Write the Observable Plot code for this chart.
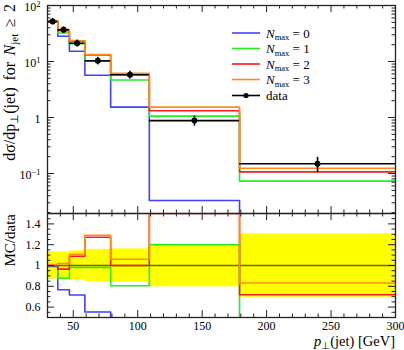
<!DOCTYPE html>
<html><head><meta charset="utf-8">
<script src="https://cdn.jsdelivr.net/npm/d3@7"></script>
<script src="https://cdn.jsdelivr.net/npm/@observablehq/plot@0.6"></script>
<style>
body{margin:0;background:#fff;}
#wrap{position:relative;width:404px;height:350px;font-family:"Liberation Serif",serif;}
#wrap svg{position:absolute;left:0;overflow:visible;}
</style></head><body><div id="wrap"></div>
<script>
// ---- data ----
const binEdges = [30, 38, 47, 59, 79, 109, 179, 300];
const dataValues = [52, 36.8, 21.2, 10.3, 5.8, 0.88, 0.149];
const dataRelErr = [0.13, 0.13, 0.14, 0.155, 0.16, 0.205, 0.305];
const nmax0 = [51.5, 28.2, 15.2, 5.69, 1.53, 0.033, 0.005];
const nmax1 = [52, 32.3, 20.8, 10.1, 4.67, 1.056, 0.073];
const nmax2 = [52, 35.5, 23.1, 13.1, 5.8, 1.32, 0.107];
const nmax3 = [52.5, 37.5, 23.5, 13.3, 6.15, 1.53, 0.124];
const seriesLabels = ["0", "1", "2", "3"];
const seriesColors = ["#4040ff", "#22ee22", "#ff1a1a", "#ff8c1a"];
const xTickValues = [50, 100, 150, 200, 250, 300];
const xTickLabels = ["50", "100", "150", "200", "250", "300"];
const yMainTickValues = [0.1, 1, 10, 100];
const yMainTickLabels = ["10^−1", "1", "10^1", "10^2"];
const yRatioTickValues = [0.6, 0.8, 1, 1.2, 1.4];
const yRatioTickLabels = ["0.6", "0.8", "1", "1.2", "1.4"];

const series = [nmax0, nmax1, nmax2, nmax3];
const W = 404, ML = 47, MR = 9;
const xDomain = [30, 300];
const FONT = "Liberation Serif";

const bins = dataValues.map((v, i) => ({
  lo: binEdges[i], hi: binEdges[i + 1], mid: (binEdges[i] + binEdges[i + 1]) / 2,
  v, elo: v * (1 - dataRelErr[i]), ehi: v * (1 + dataRelErr[i]),
  rlo: 1 - dataRelErr[i], rhi: 1 + dataRelErr[i]
}));
function steps(vals) {
  return binEdges.map((e, i) => ({x: e, y: vals[Math.min(i, vals.length - 1)]}));
}

const xMinor = d3.range(30, 301, 10).filter(d => d % 50 !== 0);
function frameTicks(fh, fw, xMaj, xMin, yMaj, yMin) {
  const c = "#222";
  const m = [];
  const LM = 7, Lm = 3.5;
  m.push(Plot.tickX(xMaj, {x: d => d, insetTop: fh - LM, stroke: c}));
  m.push(Plot.tickX(xMaj, {x: d => d, insetBottom: fh - LM, stroke: c}));
  m.push(Plot.tickX(xMin, {x: d => d, insetTop: fh - Lm, stroke: c}));
  m.push(Plot.tickX(xMin, {x: d => d, insetBottom: fh - Lm, stroke: c}));
  m.push(Plot.tickY(yMaj, {y: d => d, insetRight: fw - LM, stroke: c}));
  m.push(Plot.tickY(yMaj, {y: d => d, insetLeft: fw - LM, stroke: c}));
  m.push(Plot.tickY(yMin, {y: d => d, insetRight: fw - Lm, stroke: c}));
  m.push(Plot.tickY(yMin, {y: d => d, insetLeft: fw - Lm, stroke: c}));
  return m;
}

const wrap = document.getElementById("wrap");

// ---- main panel ----
const topH = 213, topMT = 5;
const fhTop = topH - topMT, fw = W - ML - MR;
const yMainMinor = [];
[-2, -1, 0, 1].forEach(k => { for (let j = 2; j <= 9; j++) { const v = j * Math.pow(10, k); if (v > 0.0193 && v < 100) yMainMinor.push(v); } });
const mainLabelMap = new Map(yMainTickValues.map((d, i) => [d, yMainTickLabels[i]]));

const mainPlot = Plot.plot({
  width: W, height: topH, marginLeft: ML, marginRight: MR, marginTop: topMT, marginBottom: 0,
  style: {fontFamily: FONT, fontSize: "12px", background: "transparent", overflow: "visible"},
  x: {domain: xDomain, axis: null},
  y: {type: "log", domain: [0.0193, 100], label: null},
  marks: [
    ...series.map((s, i) => Plot.line(steps(s), {x: "x", y: "y", curve: "step-after", stroke: seriesColors[i], strokeWidth: 1.6, clip: true})),
    Plot.ruleY(bins, {y: "v", x1: "lo", x2: "hi", stroke: "black", strokeWidth: 1.6}),
    Plot.ruleX(bins, {x: "mid", y1: "elo", y2: "ehi", stroke: "black", strokeWidth: 1.6}),
    Plot.dot(bins, {x: "mid", y: "v", r: 3, fill: "black"}),
    ...frameTicks(fhTop, fw, xTickValues, xMinor, yMainTickValues, yMainMinor),
    Plot.axisY(yMainTickValues, {tickSize: 0, tickPadding: 7, dy: 1.5, tickFormat: d => mainLabelMap.get(d), fontSize: 12, label: null}),
    Plot.frame({stroke: "#222", strokeWidth: 1.3})
  ]
});
mainPlot.style.top = "0px";
wrap.appendChild(mainPlot);
d3.select(mainPlot).selectAll("text").each(function () {
  const t = this.textContent;
  if (t.includes("^")) {
    const [b, e] = t.split("^");
    const s = d3.select(this);
    s.text(b);
    s.append("tspan").attr("dy", "-0.4em").attr("font-size", "8.5px").text(e);
  }
});

// ---- ratio panel ----
const botH = 137, botMB = 33;
const fhBot = botH - botMB;
const yRatioMinor = d3.range(0.5, 1.5001, 0.05).map(d => +d.toFixed(2)).filter(d => !yRatioTickValues.some(t => Math.abs(t - d) < 1e-6));
const ratioLabelMap = new Map(yRatioTickValues.map((d, i) => [d, yRatioTickLabels[i]]));
const xLabelMap = new Map(xTickValues.map((d, i) => [d, xTickLabels[i]]));

const ratioPlot = Plot.plot({
  width: W, height: botH, marginLeft: ML, marginRight: MR, marginTop: 0, marginBottom: botMB,
  style: {fontFamily: FONT, fontSize: "12px", background: "transparent", overflow: "visible"},
  x: {domain: xDomain, label: null},
  y: {domain: [0.5, 1.5], label: null},
  marks: [
    Plot.rect(bins, {x1: "lo", x2: "hi", y1: "rlo", y2: "rhi", fill: "#ffff00"}),
    Plot.ruleY(bins, {y: () => 1, x1: "lo", x2: "hi", stroke: "#6b6b00", strokeWidth: 1.6}),
    ...series.map((s, i) => Plot.line(steps(s.map((v, j) => v / dataValues[j])), {x: "x", y: "y", curve: "step-after", stroke: seriesColors[i], strokeWidth: 1.6, clip: true})),
    ...frameTicks(fhBot, fw, xTickValues, xMinor, yRatioTickValues, yRatioMinor),
    Plot.axisY(yRatioTickValues, {tickSize: 0, tickPadding: 7, tickFormat: d => ratioLabelMap.get(d), fontSize: 12, label: null}),
    Plot.axisX(xTickValues, {tickSize: 0, tickPadding: 4, tickFormat: d => xLabelMap.get(d), fontSize: 12, label: null}),
    Plot.frame({stroke: "#222", strokeWidth: 1.3})
  ]
});
ratioPlot.style.top = topH + "px";
wrap.appendChild(ratioPlot);

// ---- labels and legend overlay ----
const ov = d3.select(wrap).append("svg").attr("width", W).attr("height", 350)
  .style("top", "0px").attr("font-family", FONT).attr("fill", "black");

// y labels are anchored at the top of their panels
const yl = ov.append("text").attr("transform", "translate(14.5,4) rotate(-90)")
  .attr("text-anchor", "end").attr("font-size", "16px").attr("word-spacing", "2.5px");
yl.append("tspan").text("dσ/dp");
yl.append("tspan").attr("dy", "3").attr("font-size", "11px").text("⊥");
yl.append("tspan").attr("dy", "-3").text("(jet) for ");
yl.append("tspan").attr("font-style", "italic").text("N");
yl.append("tspan").attr("dy", "3").attr("font-size", "11px").text("jet");
yl.append("tspan").attr("dy", "-3").text(" ≥ 2");

ov.append("text").attr("transform", "translate(14.5,214) rotate(-90)")
  .attr("text-anchor", "end").attr("font-size", "15px").text("MC/data");

const xl = ov.append("text").attr("x", 395).attr("y", 346).attr("text-anchor", "end").attr("font-size", "14.5px");
xl.append("tspan").attr("font-style", "italic").text("p");
xl.append("tspan").attr("dy", "2.5").attr("font-size", "10px").text("⊥");
xl.append("tspan").attr("dy", "-2.5").text("(jet) [GeV]");

const legY = [33, 48.5, 64, 79.5, 95.5];
seriesLabels.forEach((lab, i) => {
  ov.append("line").attr("x1", 232).attr("x2", 260).attr("y1", legY[i]).attr("y2", legY[i])
    .attr("stroke", seriesColors[i]).attr("stroke-width", 1.6);
  const t = ov.append("text").attr("x", 266).attr("y", legY[i] + 4.5).attr("font-size", "13px");
  t.append("tspan").attr("font-style", "italic").text("N");
  t.append("tspan").attr("dy", "2.5").attr("font-size", "8.5px").text("max");
  t.append("tspan").attr("dy", "-2.5").text(" = " + lab);
});
ov.append("line").attr("x1", 232).attr("x2", 260).attr("y1", legY[4]).attr("y2", legY[4])
  .attr("stroke", "black").attr("stroke-width", 1.6);
ov.append("circle").attr("cx", 246).attr("cy", legY[4]).attr("r", 2.6).attr("fill", "black");
ov.append("text").attr("x", 266).attr("y", legY[4] + 4.5).attr("font-size", "13px").text("data");
</script></body></html>
